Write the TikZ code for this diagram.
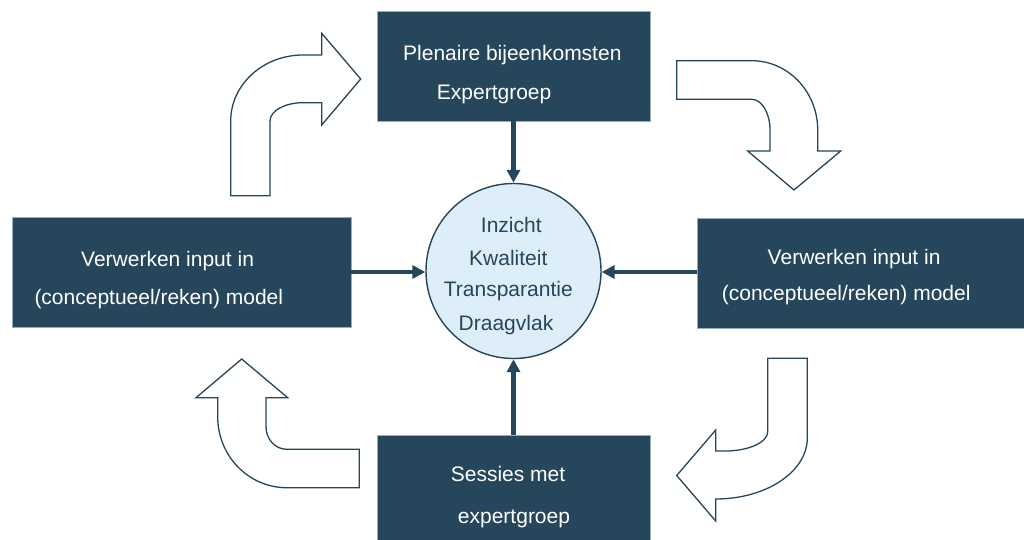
\documentclass[tikz,border=0pt]{standalone}
\usepackage{fontspec}
\setmainfont{Liberation Sans}
\usetikzlibrary{arrows.meta}
\definecolor{dark}{RGB}{38,70,91}
\definecolor{boxedge}{RGB}{150,172,186}
\definecolor{lightfill}{RGB}{222,238,248}
\tikzset{
  box/.style={rectangle, fill=dark, draw=boxedge, line width=0.8pt, inner sep=0pt},
  wtext/.style={text=white, inner sep=0pt, font=\fontsize{21}{25}\selectfont},
  ctext/.style={text=dark, inner sep=0pt, font=\fontsize{21}{25}\selectfont, anchor=base},
  conn/.style={draw=dark, line width=4.5pt, -{Triangle[length=13pt,width=13pt]}},
  blockarrow/.style={draw=dark, fill=white, line width=1.3pt, line join=miter},
}
\begin{document}
\begin{tikzpicture}[x=1pt, y=-1pt]
\useasboundingbox (0,0) rectangle (1024,540);
% boxes
\node[box, minimum width=273pt, minimum height=110pt] (top) at (513.5,66) {};
\node[box, minimum width=339pt, minimum height=110pt] (left) at (181.5,272) {};
\node[box, minimum width=330pt, minimum height=110pt] (right) at (862,273) {};
\node[box, minimum width=273pt, minimum height=108pt] (bottom) at (513.5,489) {};
% circle
\node[circle, fill=lightfill, draw=dark, line width=1.4pt, minimum size=175pt, inner sep=0pt] (circ) at (513.5,271) {};
% texts
\node[wtext, anchor=base west] (t1) at (403,60.7) {Plenaire bijeenkomsten};
\node[wtext, anchor=base west] (t2) at (436.7,100) {Expertgroep};
\node[wtext, anchor=base west] (l1) at (81,266.7) {Verwerken input in};
\node[wtext, anchor=base west] (l2) at (34.3,304) {(conceptueel/reken) model};
\node[wtext, anchor=base east] (r1) at (940.7,264.3) {Verwerken input in};
\node[wtext, anchor=base east] (r2) at (970.7,300.7) {(conceptueel/reken) model};
\node[wtext, anchor=base] (b1) at (508,481) {Sessies met};
\node[wtext, anchor=base] (b2) at (514,523.5) {expertgroep};
\node[ctext] (c1) at (511.3,232.7) {Inzicht};
\node[ctext] (c2) at (508.3,265) {Kwaliteit};
\node[ctext] (c3) at (508.3,296.7) {Transparantie};
\node[ctext] (c4) at (506,330) {Draagvlak};
% connectors
\draw[conn] (top) -- (circ);
\draw[conn] (bottom) -- (circ);
\draw[conn] (left.east |- 0,272) -- (circ.west |- 0,272);
\draw[conn] (right.west |- 0,272) -- (circ.east |- 0,272);
% curved block arrows
% top-left
\draw[blockarrow] (230.7,195.7) -- (230.7,121)
  arc[start angle=180, end angle=270, x radius=72.3, y radius=66]
  -- (321.7,55) -- (321.7,33.3) -- (360.7,79) -- (321.7,125) -- (321.7,102.7) -- (303,102.7)
  arc[start angle=270, end angle=180, x radius=33, y radius=18.3]
  -- (270,195.7) -- cycle;
% top-right
\draw[blockarrow] (676.7,60.7) -- (751.7,60.7)
  arc[start angle=270, end angle=360, x radius=66, y radius=69.3]
  -- (817.7,151) -- (840.7,151) -- (794,190) -- (747.7,151) -- (770,151) -- (770,130)
  arc[start angle=0, end angle=-90, x radius=18.3, y radius=30.7]
  -- (676.7,99.3) -- cycle;
% bottom-right
\draw[blockarrow] (767.7,358.3) -- (807.3,358.3) -- (807.3,438)
  arc[start angle=0, end angle=90, x radius=91.6, y radius=61]
  -- (715.7,521) -- (676.7,475.5) -- (715.7,430) -- (715.7,451) -- (725,451)
  arc[start angle=90, end angle=0, x radius=42.7, y radius=19.3]
  -- cycle;
% bottom-left
\draw[blockarrow] (359.3,449.3) -- (286.7,449.3)
  arc[start angle=90, end angle=180, x radius=20.7, y radius=22.6]
  -- (266,397.7) -- (287.7,397.7) -- (241.7,359) -- (196,397.7) -- (217.7,397.7) -- (217.7,416.7)
  arc[start angle=180, end angle=90, x radius=69, y radius=71]
  -- (359.3,487.7) -- cycle;
\end{tikzpicture}
\end{document}
